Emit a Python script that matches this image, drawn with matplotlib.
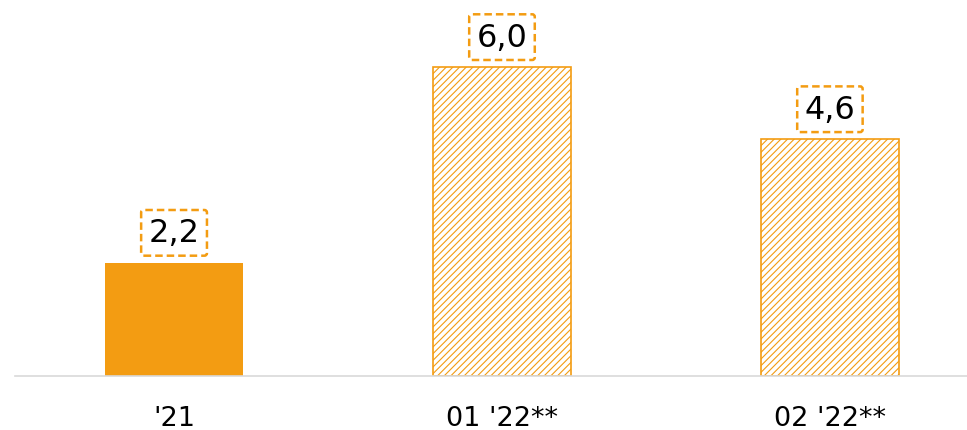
import matplotlib
matplotlib.use("Agg")
import matplotlib.pyplot as plt

categories = ["'21", "01 '22**", "02 '22**"]
values = [2.2, 6.0, 4.6]
value_labels = ["2,2", "6,0", "4,6"]

orange = "#F39C12"
plt.rcParams['hatch.linewidth'] = 0.8
plt.rcParams['hatch.color'] = "#F6B555"

W, H = 967, 431
fig = plt.figure(figsize=(W / 100, H / 100), dpi=100)
ax = fig.add_axes([15 / W, 54 / H, 952 / W, 377 / H])

x = list(range(len(categories)))
bars = ax.bar(x, values, width=0.42, color=orange, edgecolor=orange, linewidth=0)
for b in bars[1:]:
    b.set_facecolor("white")
    b.set_edgecolor(orange)
    b.set_linewidth(1.2)
    b.set_hatch("/////")

for xi, v, lab in zip(x, values, value_labels):
    ax.annotate(lab, xy=(xi, v), xytext=(0, 21.5), textcoords="offset points",
                ha="center", va="center", fontsize=23, color="black",
                bbox=dict(boxstyle="round,pad=0.23,rounding_size=0.08", facecolor="white",
                          edgecolor=orange, linestyle=(0, (3, 1.6)), linewidth=1.8))

ax.set_xlim(-0.485, 2.418)
ax.set_ylim(0, 377 / 51.5)
ax.set_xticks(x)
ax.set_xticklabels(categories, fontsize=19.5)
ax.tick_params(axis="x", length=0, pad=21)
ax.set_yticks([])
for s in ["top", "right", "left"]:
    ax.spines[s].set_visible(False)
ax.spines["bottom"].set_color("#D9D9D9")
ax.spines["bottom"].set_linewidth(1.2)

fig.savefig("out.png", dpi=100)
